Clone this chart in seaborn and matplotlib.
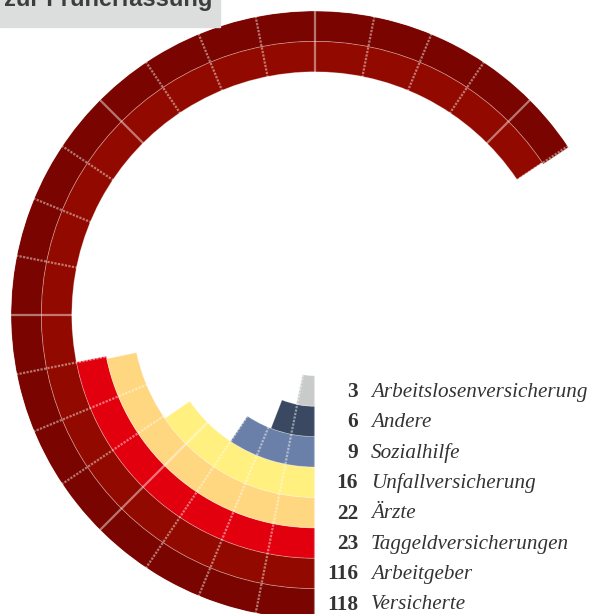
import matplotlib.pyplot as plt
import numpy as np
import pandas as pd
import seaborn as sns
from matplotlib.patches import Rectangle

# outer ring first
categories = ["Versicherte", "Arbeitgeber", "Taggeldversicherungen", "Ärzte",
              "Unfallversicherung", "Sozialhilfe", "Andere", "Arbeitslosenversicherung"]
counts = [118, 116, 23, 22, 16, 9, 6, 3]
# share in percent, sets the arc length (full circle = 100 %)
shares = [65.7, 65.6, 21.9, 21.7, 15.4, 9.4, 5.9, 3.3]
colors = ["#7a0500", "#920900", "#e2000f", "#ffd780",
          "#fff080", "#6b80a8", "#3a4862", "#c9caca"]
title = "zur Früherfassung"

df = pd.DataFrame({"category": categories, "count": counts, "share": shares})
df["ring"] = np.arange(len(df))[::-1]

sns.set_theme(style="white")
palette = sns.color_palette(colors)

W, H = 593, 614
cx, cy, R = 315, 315, 304
hole = 2.0
rmax = hole + len(df)

fig = plt.figure(figsize=(W / 100, H / 100), dpi=100)
ax = fig.add_axes([(cx - R) / W, (H - cy - R) / H, 2 * R / W, 2 * R / H], projection="polar")
ax.set_theta_zero_location("S")
ax.set_theta_direction(-1)
ax.set_ylim(0, rmax)
ax.set_axis_off()

ax.bar(np.zeros(len(df)), np.ones(len(df)), width=df["share"] / 100 * 2 * np.pi,
       bottom=hole + df["ring"], align="edge", color=palette,
       edgecolor=(1, 1, 1, 0.3), linewidth=0.6, zorder=2)

# radial grid, 32 steps, solid every 45 degrees
for k in range(32):
    th = k * 2 * np.pi / 32
    ls = "-" if k % 4 == 0 else (0, (1.0, 0.6))
    ax.plot([th, th], [hole, rmax], color="white", alpha=0.45, lw=1.6, ls=ls, zorder=3)

for _, row in df.iterrows():
    r = hole + row["ring"] + 0.5
    ax.annotate(str(row["count"]), xy=(0, r), xytext=(43, -1), textcoords="offset pixels",
                ha="right", va="center", fontsize=15.3, fontweight="bold",
                family="Liberation Serif", color="#333333", annotation_clip=False)
    ax.annotate(row["category"], xy=(0, r), xytext=(56, -1), textcoords="offset pixels",
                ha="left", va="center", fontsize=15.2, style="italic",
                family="Liberation Serif", color="#333333", annotation_clip=False)

fig.add_artist(Rectangle((0, 1 - 27 / H), 220 / W, 27 / H, transform=fig.transFigure,
                         color="#dcdedd", zorder=5))
fig.text(4 / W, 1 - 6 / H, title, fontsize=17, fontweight="bold", family="Liberation Sans",
         color="#3d3d3d", va="baseline", zorder=6)

fig.savefig("out.png", dpi=100)
